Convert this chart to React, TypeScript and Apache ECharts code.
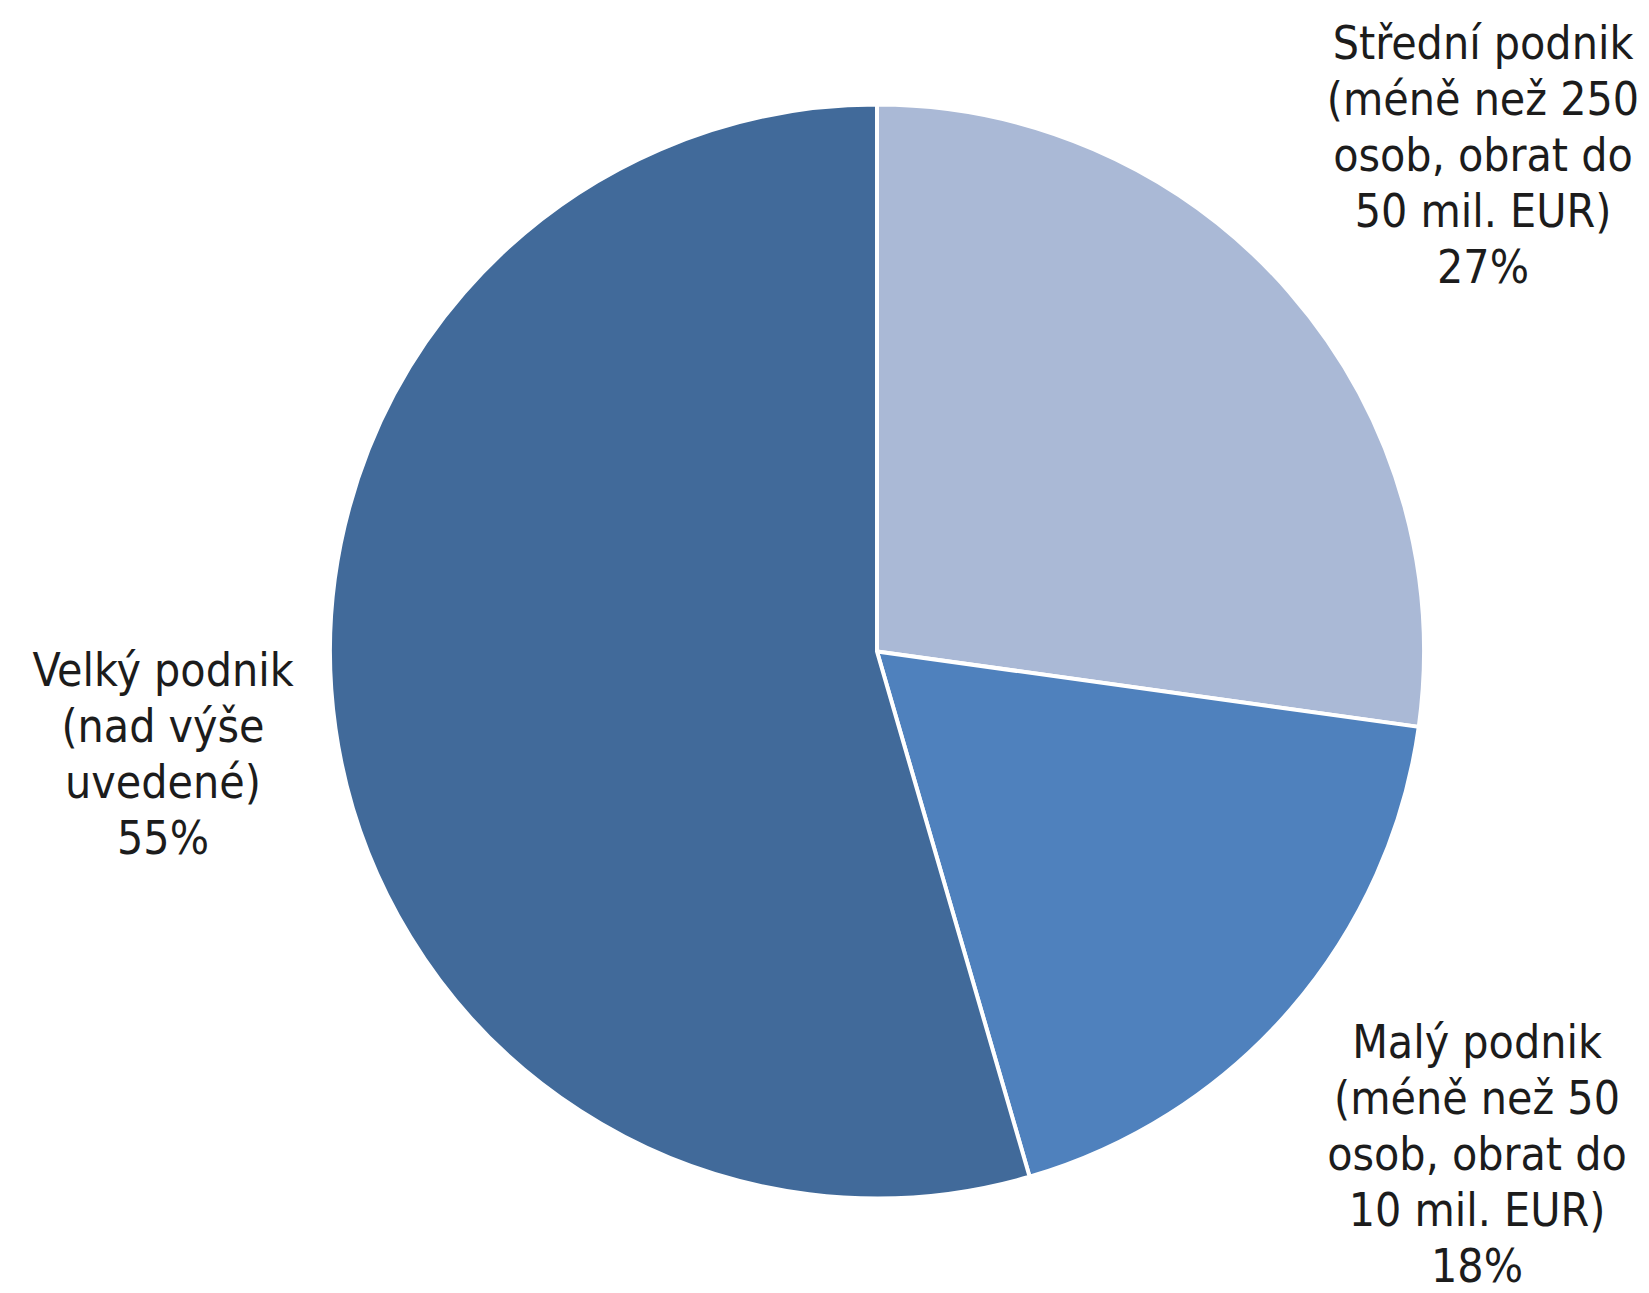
import React, { useEffect, useRef } from "react";
import * as echarts from "echarts";

const categories = [
  "Střední podnik\n(méně než 250\nosob, obrat do\n50 mil. EUR)",
  "Malý podnik\n(méně než 50\nosob, obrat do\n10 mil. EUR)",
  "Velký podnik\n(nad výše\nuvedené)",
];
const shares = [27.2, 18.3, 54.5];
const colors = ["#AAB9D6", "#4F81BD", "#416A9A"];
const labelCenters: [number, number][] = [
  [1483, 155],
  [1477, 1154],
  [163, 754],
];

export default function App() {
  const ref = useRef<HTMLDivElement>(null);
  useEffect(() => {
    if (!ref.current) return;
    const chart = echarts.init(ref.current, undefined, { renderer: "svg" });
    chart.setOption({
      animation: false,
      backgroundColor: "#ffffff",
      series: [
        {
          type: "pie",
          center: [877, 651.5],
          radius: 547,
          startAngle: 90,
          clockwise: true,
          avoidLabelOverlap: false,
          itemStyle: { borderColor: "#ffffff", borderWidth: 4 },
          label: {
            show: true,
            position: "outside",
            fontFamily: "'DejaVu Sans Condensed', 'DejaVu Sans', sans-serif",
            fontSize: 46,
            lineHeight: 56,
            color: "#1c1c1c",
            align: "center",
            formatter: (p: any) => `${p.name}\n${Math.round(p.value)}%`,
          },
          labelLine: { show: false },
          labelLayout: (params: any) => {
            const pos = labelCenters[params.dataIndex];
            return { x: pos[0], y: pos[1], align: "center", verticalAlign: "middle" };
          },
          emphasis: { disabled: true },
          data: categories.map((name, i) => ({
            name,
            value: shares[i],
            itemStyle: { color: colors[i] },
          })),
        },
      ],
    });
    return () => chart.dispose();
  }, []);
  return (
    <div
      ref={ref}
      style={{ position: "fixed", left: 0, top: 0, width: 1649, height: 1293 }}
    />
  );
}
